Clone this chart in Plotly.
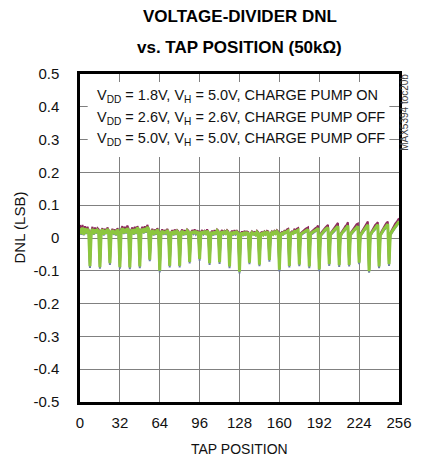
import plotly.graph_objects as go

# ---------------- data ----------------
TAP_START = 0
TAP_END = 256
X_TICKS = [0, 32, 64, 96, 128, 160, 192, 224, 256]
Y_TICKS = [-0.5, -0.4, -0.3, -0.2, -0.1, 0, 0.1, 0.2, 0.3, 0.4, 0.5]
Y_TICK_TEXT = ["-0.5", "-0.4", "-0.3", "-0.2", "-0.1", "0", "0.1", "0.2", "0.3", "0.4", "0.5"]

SERIES_NAMES = [
    "V<sub>DD</sub> = 1.8V, V<sub>H</sub> = 5.0V, CHARGE PUMP ON",
    "V<sub>DD</sub> = 2.6V, V<sub>H</sub> = 2.6V, CHARGE PUMP OFF",
    "V<sub>DD</sub> = 5.0V, V<sub>H</sub> = 5.0V, CHARGE PUMP OFF",
]

# each series: value at tap 0, then 32 groups of 8 taps (taps 8k+1 .. 8k+8)
maroon_start = 0.040
maroon_groups = [
    [0.018, 0.040, 0.016, 0.036, 0.020, 0.034, 0.024, -0.082],
    [0.020, 0.034, 0.016, 0.032, 0.020, 0.030, 0.026, -0.085],
    [0.022, 0.030, 0.014, 0.028, 0.018, 0.032, 0.024, -0.074],
    [0.020, 0.028, 0.016, 0.026, 0.014, 0.030, 0.022, -0.086],
    [0.026, 0.036, 0.020, 0.034, 0.022, 0.038, 0.028, -0.087],
    [0.024, 0.032, 0.018, 0.034, 0.020, 0.036, 0.028, -0.084],
    [0.024, 0.034, 0.020, 0.036, 0.022, 0.040, 0.030, -0.063],
    [0.020, 0.028, 0.014, 0.026, 0.016, 0.030, 0.022, -0.097],
    [0.018, 0.026, 0.016, 0.024, 0.018, 0.028, 0.020, -0.082],
    [0.016, 0.024, 0.014, 0.026, 0.016, 0.024, 0.020, -0.082],
    [0.018, 0.026, 0.014, 0.024, 0.016, 0.026, 0.022, -0.070],
    [0.016, 0.024, 0.018, 0.026, 0.016, 0.022, 0.020, -0.061],
    [0.018, 0.024, 0.016, 0.022, 0.018, 0.026, 0.020, -0.074],
    [0.016, 0.022, 0.014, 0.024, 0.016, 0.026, 0.022, -0.071],
    [0.018, 0.024, 0.016, 0.022, 0.018, 0.024, 0.020, -0.084],
    [0.016, 0.022, 0.014, 0.024, 0.016, 0.022, 0.018, -0.100],
    [0.014, 0.020, 0.012, 0.022, 0.016, 0.020, 0.018, -0.072],
    [0.014, 0.020, 0.016, 0.018, 0.014, 0.022, 0.018, -0.078],
    [0.016, 0.018, 0.014, 0.020, 0.016, 0.022, 0.020, -0.064],
    [0.014, 0.020, 0.016, 0.022, 0.018, 0.024, 0.020, -0.094],
    [0.014, 0.018, 0.016, 0.022, 0.020, 0.026, 0.028, -0.082],
    [0.016, 0.020, 0.018, 0.026, 0.024, 0.028, 0.030, -0.078],
    [0.014, 0.018, 0.022, 0.026, 0.028, 0.030, 0.032, -0.084],
    [0.016, 0.020, 0.024, 0.028, 0.030, 0.032, 0.038, -0.093],
    [0.012, 0.018, 0.024, 0.028, 0.032, 0.036, 0.040, -0.077],
    [0.014, 0.020, 0.026, 0.030, 0.034, 0.040, 0.046, -0.080],
    [0.012, 0.018, 0.026, 0.030, 0.036, 0.040, 0.048, -0.079],
    [0.014, 0.020, 0.026, 0.032, 0.036, 0.042, 0.044, -0.072],
    [0.012, 0.018, 0.026, 0.032, 0.038, 0.042, 0.050, -0.098],
    [0.014, 0.020, 0.028, 0.032, 0.040, 0.044, 0.048, -0.084],
    [0.012, 0.020, 0.028, 0.034, 0.040, 0.046, 0.050, -0.077],
    [0.014, 0.022, 0.030, 0.036, 0.044, 0.048, 0.056, 0.060],
]

blue_start = 0.026
blue_groups = [
    [0.010, 0.028, 0.008, 0.026, 0.012, 0.024, 0.016, -0.091],
    [0.012, 0.024, 0.010, 0.022, 0.014, 0.020, 0.018, -0.094],
    [0.014, 0.022, 0.008, 0.020, 0.012, 0.024, 0.018, -0.082],
    [0.014, 0.020, 0.010, 0.018, 0.008, 0.022, 0.016, -0.094],
    [0.016, 0.026, 0.012, 0.024, 0.014, 0.026, 0.020, -0.095],
    [0.016, 0.022, 0.010, 0.024, 0.012, 0.028, 0.020, -0.092],
    [0.016, 0.024, 0.014, 0.026, 0.016, 0.030, 0.022, -0.071],
    [0.014, 0.020, 0.008, 0.018, 0.010, 0.022, 0.016, -0.105],
    [0.012, 0.018, 0.010, 0.016, 0.012, 0.020, 0.014, -0.090],
    [0.010, 0.016, 0.008, 0.018, 0.010, 0.016, 0.014, -0.090],
    [0.012, 0.018, 0.008, 0.016, 0.010, 0.018, 0.016, -0.078],
    [0.010, 0.016, 0.012, 0.018, 0.010, 0.014, 0.014, -0.069],
    [0.012, 0.016, 0.010, 0.014, 0.012, 0.018, 0.014, -0.082],
    [0.010, 0.014, 0.008, 0.016, 0.010, 0.018, 0.016, -0.079],
    [0.012, 0.016, 0.010, 0.014, 0.012, 0.016, 0.014, -0.092],
    [0.010, 0.014, 0.008, 0.016, 0.010, 0.014, 0.012, -0.108],
    [0.008, 0.012, 0.006, 0.014, 0.010, 0.012, 0.012, -0.080],
    [0.008, 0.012, 0.010, 0.010, 0.008, 0.014, 0.012, -0.086],
    [0.010, 0.010, 0.008, 0.012, 0.010, 0.014, 0.014, -0.072],
    [0.008, 0.012, 0.010, 0.014, 0.012, 0.016, 0.014, -0.102],
    [0.008, 0.010, 0.010, 0.014, 0.014, 0.016, 0.018, -0.090],
    [0.010, 0.012, 0.012, 0.016, 0.016, 0.018, 0.020, -0.086],
    [0.008, 0.010, 0.014, 0.016, 0.018, 0.020, 0.022, -0.092],
    [0.010, 0.012, 0.016, 0.018, 0.020, 0.022, 0.026, -0.101],
    [0.006, 0.010, 0.016, 0.018, 0.022, 0.024, 0.028, -0.085],
    [0.008, 0.012, 0.018, 0.020, 0.024, 0.028, 0.032, -0.088],
    [0.006, 0.010, 0.018, 0.020, 0.024, 0.028, 0.034, -0.087],
    [0.008, 0.012, 0.018, 0.022, 0.026, 0.030, 0.032, -0.080],
    [0.006, 0.010, 0.018, 0.022, 0.026, 0.030, 0.036, -0.106],
    [0.008, 0.012, 0.020, 0.022, 0.028, 0.032, 0.036, -0.092],
    [0.006, 0.012, 0.020, 0.024, 0.028, 0.034, 0.038, -0.085],
    [0.008, 0.014, 0.022, 0.026, 0.032, 0.036, 0.042, 0.046],
]

green_start = 0.030
green_groups = [
    [0.012, 0.032, 0.010, 0.030, 0.014, 0.028, 0.018, -0.086],
    [0.015, 0.028, 0.012, 0.026, 0.016, 0.024, 0.020, -0.089],
    [0.018, 0.026, 0.010, 0.024, 0.014, 0.028, 0.020, -0.077],
    [0.016, 0.024, 0.012, 0.022, 0.010, 0.026, 0.018, -0.089],
    [0.020, 0.030, 0.014, 0.028, 0.016, 0.030, 0.022, -0.090],
    [0.018, 0.026, 0.012, 0.028, 0.014, 0.032, 0.024, -0.087],
    [0.020, 0.028, 0.016, 0.030, 0.018, 0.034, 0.026, -0.066],
    [0.016, 0.024, 0.010, 0.022, 0.012, 0.026, 0.018, -0.100],
    [0.014, 0.022, 0.012, 0.020, 0.014, 0.024, 0.016, -0.085],
    [0.012, 0.020, 0.010, 0.022, 0.012, 0.020, 0.016, -0.085],
    [0.014, 0.022, 0.010, 0.020, 0.012, 0.022, 0.018, -0.073],
    [0.012, 0.020, 0.014, 0.022, 0.012, 0.018, 0.016, -0.064],
    [0.014, 0.020, 0.012, 0.018, 0.014, 0.022, 0.016, -0.077],
    [0.012, 0.018, 0.010, 0.020, 0.012, 0.022, 0.018, -0.074],
    [0.014, 0.020, 0.012, 0.018, 0.014, 0.020, 0.016, -0.087],
    [0.012, 0.018, 0.010, 0.020, 0.012, 0.018, 0.014, -0.103],
    [0.010, 0.016, 0.008, 0.018, 0.012, 0.016, 0.014, -0.075],
    [0.010, 0.016, 0.012, 0.014, 0.010, 0.018, 0.014, -0.081],
    [0.012, 0.014, 0.010, 0.016, 0.012, 0.018, 0.016, -0.067],
    [0.010, 0.016, 0.012, 0.018, 0.014, 0.020, 0.016, -0.097],
    [0.010, 0.014, 0.012, 0.018, 0.016, 0.020, 0.022, -0.085],
    [0.012, 0.016, 0.014, 0.020, 0.018, 0.022, 0.024, -0.081],
    [0.010, 0.014, 0.016, 0.020, 0.022, 0.024, 0.026, -0.087],
    [0.012, 0.016, 0.018, 0.022, 0.024, 0.026, 0.030, -0.096],
    [0.008, 0.014, 0.018, 0.022, 0.026, 0.028, 0.032, -0.080],
    [0.010, 0.016, 0.020, 0.024, 0.028, 0.032, 0.036, -0.083],
    [0.008, 0.014, 0.020, 0.024, 0.028, 0.032, 0.038, -0.082],
    [0.010, 0.016, 0.020, 0.026, 0.030, 0.034, 0.036, -0.075],
    [0.008, 0.014, 0.020, 0.026, 0.030, 0.034, 0.040, -0.101],
    [0.010, 0.016, 0.022, 0.026, 0.032, 0.036, 0.040, -0.087],
    [0.008, 0.016, 0.022, 0.028, 0.032, 0.038, 0.042, -0.080],
    [0.010, 0.018, 0.024, 0.030, 0.036, 0.040, 0.046, 0.050],
]

taps = list(range(TAP_START, TAP_END + 1))
maroon = [maroon_start] + [v for g in maroon_groups for v in g]
blue = [blue_start] + [v for g in blue_groups for v in g]
green = [green_start] + [v for g in green_groups for v in g]

# ---------------- figure ----------------
W, H = 423, 462
L, R, T, B = 80, 11, 74, 60
PW, PH = W - L - R, H - T - B

def px(x):
    return (x - L) / PW

def py(y):
    return (H - B - y) / PH

FONT = "Liberation Sans, Arial, Helvetica, sans-serif"

fig = go.Figure()
fig.add_trace(go.Scatter(x=taps, y=maroon, mode="lines", name="s1",
                         line=dict(color="#8E2A5E", width=2)))
fig.add_trace(go.Scatter(x=taps, y=blue, mode="lines", name="s2",
                         line=dict(color="#6E7EA8", width=2)))
fig.add_trace(go.Scatter(x=taps, y=green, mode="lines", name="s3",
                         line=dict(color="#8CC63F", width=3)))

axis_common = dict(showline=True, linecolor="black", linewidth=2.5, mirror=True,
                   showgrid=True, gridcolor="#808080", gridwidth=1, zeroline=False,
                   ticks="", tickfont=dict(family=FONT, size=15, color="#111"))

fig.update_xaxes(range=[TAP_START, TAP_END], tickvals=X_TICKS, ticklabelstandoff=5,
                 **axis_common)
fig.update_yaxes(range=[-0.5, 0.5], tickvals=Y_TICKS, ticktext=Y_TICK_TEXT,
                 ticklabelstandoff=15, **axis_common)

# white box behind the legend text
fig.add_shape(type="rect", xref="paper", yref="paper",
              x0=px(88), x1=px(402), y0=py(157), y1=py(82),
              fillcolor="white", line=dict(width=0), layer="above")

ann = []
for i, name in enumerate(SERIES_NAMES):
    ann.append(dict(text=name, xref="paper", yref="paper", x=px(96), y=py(96 + 21.7 * i),
                    xanchor="left", yanchor="middle", showarrow=False,
                    font=dict(family=FONT, size=14.5, color="#111")))

ann += [
    dict(text="<b>VOLTAGE-DIVIDER DNL</b>", xref="paper", yref="paper", x=px(246), y=py(17),
         xanchor="center", yanchor="middle", showarrow=False,
         font=dict(family=FONT, size=17, color="black")),
    dict(text="<b>vs. TAP POSITION (50kΩ)</b>", xref="paper", yref="paper", x=px(246), y=py(47),
         xanchor="center", yanchor="middle", showarrow=False,
         font=dict(family=FONT, size=17, color="black")),
    dict(text="TAP POSITION", xref="paper", yref="paper", x=px(246), y=py(449),
         xanchor="center", yanchor="middle", showarrow=False,
         font=dict(family=FONT, size=14, color="#111")),
    dict(text="DNL (LSB)", xref="paper", yref="paper", x=px(16), y=py(228),
         xanchor="center", yanchor="middle", showarrow=False, textangle=-90,
         font=dict(family=FONT, size=15, color="#111")),
    dict(text="MAX5394 toc20b", xref="paper", yref="paper", x=px(417), y=py(112),
         xanchor="center", yanchor="middle", showarrow=False, textangle=-90,
         font=dict(family=FONT, size=10, color="#444")),
]

fig.update_layout(width=W, height=H, margin=dict(l=L, r=R, t=T, b=B),
                  paper_bgcolor="white", plot_bgcolor="white", showlegend=False,
                  annotations=ann)

fig.write_html("out.html", config={"displayModeBar": False},
               post_script="document.body.style.margin='0';document.body.style.padding='0';")
